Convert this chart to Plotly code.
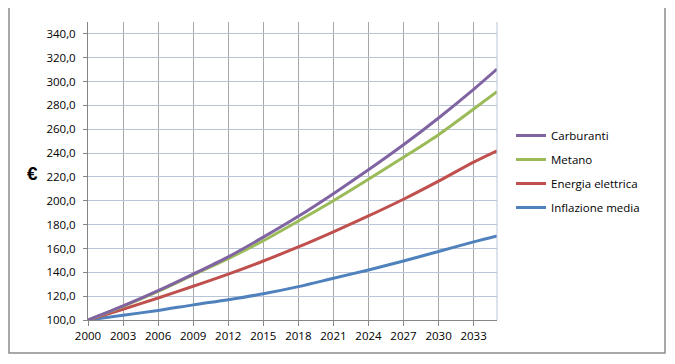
import plotly.graph_objects as go

years = [2000, 2003, 2006, 2009, 2012, 2015, 2018, 2021, 2024, 2027, 2030, 2033, 2035]
carburanti = [100.0, 111.8, 124.6, 138.5, 153.0, 169.5, 187.0, 206.0, 226.0, 247.0, 269.5, 293.5, 310.5]
metano = [100.0, 111.5, 124.0, 137.8, 151.5, 166.5, 183.0, 200.0, 218.0, 236.5, 255.5, 277.0, 291.5]
energia = [100.0, 109.0, 118.5, 128.3, 138.5, 149.5, 161.3, 174.0, 187.3, 201.3, 216.5, 232.5, 242.0]
inflazione = [100.0, 104.0, 108.0, 112.7, 117.0, 122.0, 128.0, 135.0, 142.0, 149.5, 157.5, 165.5, 170.5]
tick_years = [2000, 2003, 2006, 2009, 2012, 2015, 2018, 2021, 2024, 2027, 2030, 2033]
y_ticks = [100, 120, 140, 160, 180, 200, 220, 240, 260, 280, 300, 320, 340]

# drawn order: Inflazione first, Carburanti last (on top); legend rank gives display order
series = [
    ("Inflazione media", inflazione, "#4F81BD", 4),
    ("Energia elettrica", energia, "#C0504D", 3),
    ("Metano", metano, "#9BBB59", 2),
    ("Carburanti", carburanti, "#8064A2", 1),
]

fig = go.Figure()
for name, vals, col, rank in series:
    fig.add_trace(go.Scatter(
        x=years, y=vals, name=name, mode="lines", legendgroup=name, legendrank=rank,
        line=dict(color=col, width=3, shape="spline", smoothing=0.8),
    ))

# page has an 8px body margin; work in page pixels and shift
OFF = 8
W, H = 675 - OFF, 364 - OFF
L, R, T, B = 88 - OFF, 178, 22 - OFF, 44
pw, ph = W - L - R, H - T - B

def px(x):
    return (x - OFF - L) / pw

def py(y):
    return (H - B - (y - OFF)) / ph

fig.update_layout(
    width=W, height=H,
    margin=dict(l=L, r=R, t=T, b=B),
    paper_bgcolor="white", plot_bgcolor="white",
    font=dict(family="Open Sans, DejaVu Sans, sans-serif", size=11.5, color="#000000"),
    separators=",.",
    showlegend=True,
    legend=dict(
        x=px(511), y=py(171.5), xanchor="left", yanchor="middle",
        traceorder="grouped", tracegroupgap=5,
        font=dict(size=11.5), bgcolor="rgba(0,0,0,0)",
    ),
    xaxis=dict(
        range=[2000, 2035], tickvals=tick_years, ticktext=[str(t) for t in tick_years],
        showgrid=True, gridcolor="#A6A6A6", gridwidth=1,
        showline=True, linecolor="#868686", linewidth=1,
        ticks="outside", ticklen=5, tickcolor="#868686",
        zeroline=False, fixedrange=True,
    ),
    yaxis=dict(
        range=[100, 350], tickvals=y_ticks, tickformat=".1f",
        showgrid=True, gridcolor="#B9C4D7", gridwidth=1,
        showline=True, linecolor="#868686", linewidth=1,
        ticks="outside", ticklen=4, tickcolor="#868686",
        ticklabelstandoff=5,
        zeroline=False, fixedrange=True,
    ),
    annotations=[dict(
        text="<b>€</b>", x=px(33), y=py(173), xref="paper", yref="paper",
        showarrow=False, font=dict(size=19, family="Liberation Sans, Arial, sans-serif"),
        xanchor="center", yanchor="middle",
    )],
    shapes=[
        dict(type="line", xref="paper", yref="paper", x0=1, x1=1, y0=0, y1=1,
             line=dict(color="#B9C4D7", width=1)),
        dict(type="rect", xref="paper", yref="paper",
             x0=px(9), x1=px(665), y0=py(353), y1=py(7),
             line=dict(color="#8C8C8C", width=1.5), fillcolor="rgba(0,0,0,0)", layer="below"),
    ],
)

fig.write_html("out.html")
